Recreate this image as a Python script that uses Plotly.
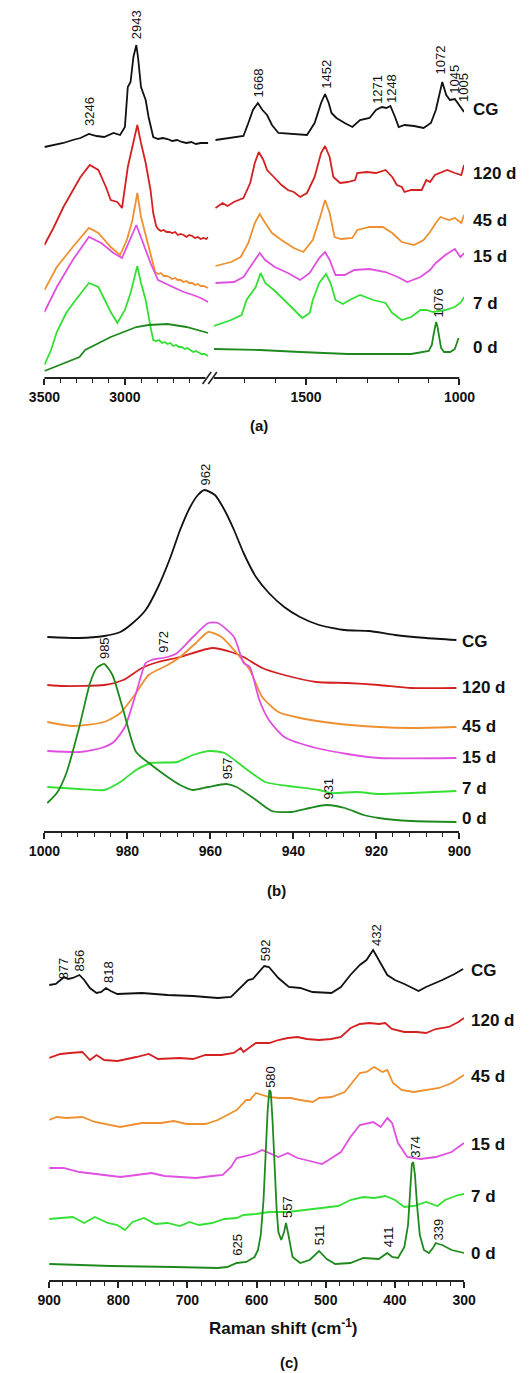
import plotly.graph_objects as go

W, H = 531, 1373
FONT = "Liberation Sans, Arial, sans-serif"

# ---------------- Panel (a): high-wavenumber segment (3500-2500) ----------------
a_hi_cg_x = [3500, 3441, 3382, 3324, 3276, 3224, 3176, 3129, 3071, 3030, 3000, 2982, 2965, 2947, 2929, 2918, 2900, 2871, 2853, 2824, 2794, 2765, 2735, 2706, 2676, 2647, 2618, 2588, 2559, 2529, 2482]
a_hi_cg_y = [231, 233, 235, 238, 240, 244, 242, 241, 245, 243, 251, 291, 296, 321, 333, 320, 291, 278, 261, 241, 239, 240, 239, 237, 238, 236, 235, 236, 234, 235, 235]
a_hi_120_x = [3500, 3441, 3382, 3324, 3276, 3218, 3165, 3118, 3088, 3047, 3018, 2982, 2947, 2923, 2900, 2871, 2841, 2824, 2806, 2794, 2776, 2759, 2741, 2724, 2706, 2688, 2671, 2653, 2635, 2618, 2600, 2582, 2565, 2547, 2529, 2512, 2494, 2482]
a_hi_120_y = [133, 151, 171, 188, 201, 213, 208, 191, 178, 176, 170, 211, 238, 253, 235, 215, 188, 165, 152, 149, 147, 148, 146, 146, 145, 146, 143, 144, 143, 141, 143, 142, 140, 141, 139, 140, 139, 141]
a_hi_45_x = [3500, 3423, 3324, 3224, 3165, 3088, 3030, 2988, 2953, 2923, 2900, 2865, 2812, 2794, 2776, 2759, 2741, 2724, 2706, 2688, 2671, 2653, 2635, 2618, 2600, 2582, 2565, 2547, 2529, 2512, 2494, 2482]
a_hi_45_y = [88, 111, 131, 150, 145, 131, 123, 138, 158, 185, 161, 138, 106, 104, 105, 102, 102, 101, 99, 100, 98, 98, 96, 97, 95, 95, 93, 94, 92, 92, 91, 90]
a_hi_15_x = [3500, 3423, 3324, 3224, 3147, 3071, 3018, 2971, 2929, 2894, 2841, 2794, 2744, 2694, 2635, 2576, 2529, 2482]
a_hi_15_y = [66, 91, 118, 141, 135, 125, 120, 138, 153, 138, 115, 98, 94, 90, 86, 83, 80, 76]
a_hi_7_x = [3500, 3459, 3423, 3365, 3306, 3224, 3165, 3106, 3088, 3047, 3000, 2965, 2923, 2900, 2871, 2841, 2824, 2806, 2788, 2770, 2753, 2735, 2718, 2700, 2682, 2665, 2647, 2629, 2612, 2594, 2576, 2559, 2541, 2524, 2506, 2482]
a_hi_7_y = [13, 28, 46, 65, 78, 95, 91, 71, 66, 55, 68, 85, 112, 95, 78, 51, 38, 37, 38, 35, 36, 34, 35, 32, 33, 31, 31, 29, 30, 28, 26, 27, 25, 24, 24, 22]
a_hi_0_x = [3500, 3282, 3247, 3088, 2929, 2853, 2735, 2618, 2482]
a_hi_0_y = [7, 21, 28, 41, 51, 53, 54, 51, 45]

# ---------------- Panel (a): fingerprint segment (1800-1000) ----------------
a_lo_cg_x = [1795, 1704, 1688, 1673, 1657, 1642, 1627, 1611, 1590, 1549, 1497, 1472, 1451, 1438, 1426, 1417, 1401, 1374, 1349, 1324, 1293, 1272, 1253, 1238, 1225, 1210, 1198, 1179, 1148, 1117, 1093, 1077, 1056, 1043, 1031, 1015, 1000, 985]
a_lo_cg_y = [238, 242, 255, 268, 275, 268, 263, 253, 245, 244, 243, 255, 275, 284, 275, 265, 260, 255, 251, 258, 260, 268, 271, 270, 272, 261, 251, 253, 252, 250, 255, 268, 296, 283, 278, 279, 272, 266]
a_lo_120_x = [1795, 1772, 1756, 1735, 1704, 1682, 1667, 1654, 1639, 1627, 1605, 1580, 1559, 1540, 1519, 1497, 1472, 1451, 1438, 1423, 1411, 1389, 1364, 1340, 1333, 1302, 1272, 1241, 1219, 1204, 1188, 1179, 1157, 1123, 1108, 1096, 1080, 1062, 1040, 1015, 994, 985]
a_lo_120_y = [170, 175, 172, 176, 180, 195, 215, 226, 218, 208, 201, 193, 188, 186, 181, 185, 201, 225, 232, 221, 201, 195, 196, 198, 205, 206, 205, 208, 201, 193, 191, 186, 188, 188, 198, 196, 203, 205, 208, 205, 203, 213]
a_lo_45_x = [1795, 1744, 1713, 1688, 1667, 1651, 1633, 1611, 1580, 1540, 1509, 1478, 1454, 1438, 1423, 1407, 1386, 1349, 1333, 1293, 1250, 1219, 1188, 1148, 1117, 1096, 1077, 1062, 1034, 1015, 994, 985]
a_lo_45_y = [112, 116, 121, 135, 155, 164, 155, 145, 138, 130, 126, 138, 161, 178, 165, 141, 139, 140, 148, 151, 151, 145, 136, 133, 138, 146, 155, 161, 158, 160, 155, 163]
a_lo_15_x = [1795, 1735, 1704, 1673, 1651, 1633, 1602, 1559, 1519, 1488, 1457, 1438, 1423, 1404, 1374, 1343, 1293, 1241, 1201, 1170, 1127, 1096, 1077, 1046, 1015, 997, 985]
a_lo_15_y = [95, 96, 101, 115, 125, 118, 111, 105, 98, 105, 120, 126, 118, 103, 103, 108, 109, 106, 101, 96, 101, 108, 115, 123, 129, 121, 125]
a_lo_7_x = [1800, 1744, 1710, 1694, 1664, 1648, 1633, 1605, 1571, 1540, 1512, 1488, 1478, 1457, 1435, 1420, 1404, 1380, 1358, 1324, 1281, 1241, 1219, 1188, 1157, 1127, 1108, 1086, 1046, 1015, 994, 985]
a_lo_7_y = [52, 58, 63, 78, 91, 105, 95, 88, 78, 68, 60, 65, 78, 95, 104, 95, 78, 74, 78, 83, 78, 75, 65, 58, 61, 68, 68, 66, 68, 71, 76, 81]
a_lo_0_x = [1800, 1650, 1519, 1364, 1250, 1157, 1100, 1090, 1084, 1079, 1076, 1072, 1066, 1060, 1050, 1030, 1015, 1003]
a_lo_0_y = [29, 28, 26, 24, 24, 24, 27, 33, 44, 54, 56, 52, 40, 30, 26, 26, 29, 40]

# ---------------- Panel (b): 1000-900 ----------------
b_cg_x = [999.3, 991.6, 985.6, 981.7, 978.7, 975.6, 972.6, 969.6, 967.3, 965, 963, 961.4, 958.9, 956.6, 954.3, 952, 949, 945.9, 942.2, 938.4, 933.8, 927.6, 921.7, 915.5, 908, 900.7]
b_cg_y = [194, 193, 195, 199, 208, 221, 244, 274, 301, 323, 336, 341, 336, 321, 301, 278, 254, 238, 224, 214, 206, 201, 200, 196, 193, 191]
b_120_x = [999.3, 995.4, 985.6, 981, 976.5, 972.6, 967.3, 959.6, 955, 952, 947.5, 942.2, 934.5, 927, 919.4, 911.6, 900.7]
b_120_y = [146, 145, 146, 151, 163, 169, 174, 183, 179, 174, 163, 156, 149, 148, 146, 143, 143]
b_45_x = [999.3, 993, 985.6, 981.7, 977.9, 974.9, 970.3, 967.3, 963.5, 960.5, 957.3, 953.7, 950.5, 947.5, 943.6, 938.4, 930.8, 919.4, 911.6, 900.7]
b_45_y = [109, 105, 109, 118, 138, 156, 166, 174, 188, 199, 194, 178, 161, 134, 119, 113, 108, 104, 103, 104]
b_15_x = [999.3, 991.6, 986.3, 983.3, 980.6, 977.9, 975.6, 974.2, 970.3, 968, 964.2, 960.5, 958.2, 954.3, 952, 950.5, 948.2, 945.9, 942.2, 934.5, 927, 919.4, 900.7]
b_15_y = [80, 79, 83, 89, 104, 138, 168, 171, 174, 178, 194, 208, 208, 194, 168, 164, 131, 111, 94, 83, 77, 73, 73]
b_7_x = [999.3, 991.6, 985.6, 981.7, 977.9, 974.2, 968, 964.2, 960, 956.6, 952, 946.8, 941.3, 933.8, 930.8, 924.7, 919.4, 911.6, 900.7]
b_7_y = [44, 42, 41, 49, 61, 68, 69, 76, 80, 78, 64, 49, 45, 41, 38, 39, 37, 38, 40]
b_0_x = [999.3, 997, 994.7, 991.6, 989, 987.4, 985.6, 983.6, 981, 977.9, 974.2, 970.3, 967.3, 964.2, 960.5, 956.2, 953.7, 949, 945.2, 940.6, 936.1, 932, 927.6, 923.1, 919.4, 911.6, 900.7]
b_0_y = [28, 38, 58, 104, 148, 163, 167, 156, 121, 79, 66, 54, 46, 41, 44, 47, 44, 31, 20, 19, 23, 26, 23, 16, 13, 10, 9]

# ---------------- Panel (c): 900-300 ----------------
c_cg_x = [900, 890.4, 883.6, 878.1, 872.6, 865.8, 856.2, 849.3, 841.1, 831.5, 824.7, 817.8, 811, 801.4, 765.8, 728.8, 692, 656.2, 637, 623.3, 612.3, 605.5, 595.9, 589, 582.2, 568.5, 553.4, 537, 519.2, 491.8, 478.1, 464.4, 450.7, 441.1, 431.5, 423.3, 411, 400, 386.3, 365.8, 355, 331.5, 313.7, 301.4]
c_cg_y = [295, 296, 300, 303, 301, 302, 305, 300, 292, 287, 288, 292, 289, 286, 287, 285, 284, 282, 283, 293, 300, 301, 308, 314, 313, 302, 293, 292, 288, 287, 293, 305, 315, 320, 330, 320, 305, 300, 296, 289, 293, 300, 306, 311]
c_120_x = [900, 883.6, 869.9, 852, 841, 831.5, 820.5, 801, 774, 756, 742.5, 711, 692, 674, 651, 633, 623, 619, 601, 582, 568.5, 555, 541, 527.4, 510, 492, 478, 464, 450.7, 437, 423, 414, 404.5, 386.3, 368.5, 355, 341, 322, 308.2, 300]
c_120_y = [222, 226, 227, 228, 220, 225, 220, 219, 223, 226, 221, 222, 221, 225, 225, 227, 232, 228, 237, 237, 240, 242, 243, 241, 240, 241, 243, 252, 256, 257, 256, 257, 251, 248, 248, 247, 251, 253, 258, 262]
c_45_x = [900, 889, 875, 852, 834, 811, 797.3, 765.8, 738.4, 719.6, 701.4, 674, 656.2, 642.5, 628.8, 615, 609.6, 601, 582, 568.5, 550.7, 537, 519, 509.6, 491.8, 472.6, 459, 450.7, 441, 430, 418, 411, 402.7, 390.4, 372.6, 355, 336, 318, 300]
c_45_y = [160, 163, 162, 163, 158, 155, 153, 157, 157, 159, 156, 156, 160, 165, 170, 180, 180, 187, 183, 182, 182, 180, 178, 182, 183, 188, 200, 207, 208, 213, 208, 210, 197, 190, 188, 190, 192, 197, 205]
c_15_x = [900, 879.5, 856, 829, 797, 774, 752, 733, 711, 687.7, 664.4, 649, 637, 628.8, 615, 601, 592, 582, 568.5, 555, 541, 523, 505.5, 496, 478, 464.4, 450.7, 431.5, 420.5, 411, 404, 395.6, 382, 363, 341, 318, 300]
c_15_y = [112, 112, 108, 106, 103, 105, 107, 104, 103, 102, 104, 105, 113, 122, 124, 127, 130, 127, 123, 127, 122, 119, 116, 120, 128, 143, 155, 158, 153, 162, 157, 137, 123, 121, 123, 128, 137]
c_7_x = [900, 879.5, 865.8, 849.3, 834, 815, 801.4, 790.4, 779.5, 763, 746.6, 728.8, 711, 697, 683.6, 664.4, 646.6, 628.8, 619, 601, 582.2, 555, 527.4, 500, 482, 464.4, 445.5, 430, 413.7, 400, 386.3, 372.6, 355, 338.4, 327.4, 308.2, 300]
c_7_y = [61, 62, 63, 57, 63, 57, 55, 50, 58, 62, 56, 57, 54, 58, 55, 57, 61, 62, 65, 66, 68, 68, 70, 72, 74, 80, 83, 82, 84, 80, 73, 74, 78, 74, 80, 85, 86]
c_0_x = [900, 811, 719.6, 656.2, 642.5, 628.8, 615, 603, 598, 594, 590, 587, 584, 581.5, 579.5, 577, 574, 571, 568.5, 564.4, 560.3, 557.5, 554.8, 548, 537, 523.3, 509.6, 498.6, 486.3, 464.4, 445.5, 423.3, 411, 404, 395.6, 386.3, 381, 378, 375.5, 373.5, 371, 368, 364, 358, 351, 345, 341, 337, 331.5, 318, 300]
c_0_y = [16, 14, 13, 12, 13, 17, 18, 23, 30, 45, 80, 125, 170, 190, 188, 160, 110, 70, 48, 40, 48, 57, 48, 23, 17, 20, 29, 21, 16, 17, 22, 21, 27, 23, 22, 33, 55, 95, 116, 118, 105, 75, 45, 30, 27, 32, 37, 36, 35, 30, 27]

series_names = ["CG", "120 d", "45 d", "15 d", "7 d", "0 d"]
a_peaks = ["3246", "2943", "1668", "1452", "1271", "1248", "1072", "1045", "1005", "1076"]
b_peaks = ["962", "985", "972", "957", "931"]
c_peaks = ["877", "856", "818", "592", "432", "580", "625", "557", "511", "411", "374", "339"]

# ---------------- styling / layout (positions in page pixels) ----------------
COLORS = ["#111111", "#d42020", "#ee9030", "#e050e0", "#33e033", "#1e8a1e"]


def px(x):
    return x / W


def py(y):
    return 1 - y / H


fig = go.Figure()

panels = [
    ("x", "y", [(a_hi_cg_x, a_hi_cg_y), (a_hi_120_x, a_hi_120_y), (a_hi_45_x, a_hi_45_y),
                (a_hi_15_x, a_hi_15_y), (a_hi_7_x, a_hi_7_y), (a_hi_0_x, a_hi_0_y)], "linear"),
    ("x2", "y", [(a_lo_cg_x, a_lo_cg_y), (a_lo_120_x, a_lo_120_y), (a_lo_45_x, a_lo_45_y),
                 (a_lo_15_x, a_lo_15_y), (a_lo_7_x, a_lo_7_y), (a_lo_0_x, a_lo_0_y)], "linear"),
    ("x3", "y2", [(b_cg_x, b_cg_y), (b_120_x, b_120_y), (b_45_x, b_45_y),
                  (b_15_x, b_15_y), (b_7_x, b_7_y), (b_0_x, b_0_y)], "spline"),
    ("x4", "y3", [(c_cg_x, c_cg_y), (c_120_x, c_120_y), (c_45_x, c_45_y),
                  (c_15_x, c_15_y), (c_7_x, c_7_y), (c_0_x, c_0_y)], "linear"),
]
for xa, ya, series, shape in panels:
    for (xs, ys), col, name in zip(series, COLORS, series_names):
        line = dict(color=col, width=1.8, shape=shape)
        if shape == "spline":
            line["smoothing"] = 0.6
        fig.add_trace(go.Scatter(x=xs, y=ys, mode="lines", line=line, name=name,
                                 xaxis=xa, yaxis=ya, showlegend=False, hoverinfo="skip"))

tickfont = dict(family=FONT, size=14, color="#111", weight="bold")
common_x = dict(showgrid=False, zeroline=False, ticks="outside", ticklen=6, tickwidth=1.5,
                tickcolor="#222", tickfont=tickfont, fixedrange=True)
common_y = dict(visible=False, showgrid=False, zeroline=False, fixedrange=True)

fig.update_layout(
    width=W, height=H, autosize=False,
    margin=dict(l=0, r=0, t=0, b=0),
    paper_bgcolor="white", plot_bgcolor="white",
    font=dict(family=FONT, color="#111"),
    xaxis=dict(domain=[px(30), px(203)], range=[3500, 2482], anchor="y", showline=False,
               tickmode="array", tickvals=[3500, 3000],
               minor=dict(tickvals=[3400, 3300, 3200, 3100, 2900, 2800, 2700, 2600],
                          ticks="outside", ticklen=3.5, tickwidth=1.2, tickcolor="#222"),
               **common_x),
    xaxis2=dict(domain=[px(209), px(473)], range=[1800, 985], anchor="y", showline=False,
                tickmode="array", tickvals=[1500, 1000],
                minor=dict(tickvals=[1700, 1600, 1400, 1300, 1200, 1100],
                           ticks="outside", ticklen=3.5, tickwidth=1.2, tickcolor="#222"),
                **common_x),
    yaxis=dict(domain=[py(378), py(5)], range=[0, 373], **common_y),
    xaxis3=dict(domain=[px(30), px(468)], range=[1000, 900], anchor="y2", showline=True,
                linecolor="#222", linewidth=2, tickmode="linear", tick0=1000, dtick=20,
                minor=dict(tickmode="linear", tick0=1000, dtick=4, ticks="outside",
                           ticklen=3.5, tickwidth=1.2, tickcolor="#222"),
                **common_x),
    yaxis2=dict(domain=[py(831), py(450)], range=[0, 381], **common_y),
    xaxis4=dict(domain=[px(35), px(473)], range=[900, 300], anchor="y3", showline=True,
                linecolor="#222", linewidth=2, tickmode="linear", tick0=900, dtick=100,
                minor=dict(tickmode="linear", tick0=900, dtick=20, ticks="outside",
                           ticklen=3.5, tickwidth=1.2, tickcolor="#222"),
                **common_x),
    yaxis3=dict(domain=[py(1280), py(880)], range=[0, 400], **common_y),
)

# broken axis line for panel (a)
shapes = [
    dict(type="line", xref="paper", yref="paper", x0=px(30), x1=px(200), y0=py(378), y1=py(378),
         line=dict(color="#222", width=2)),
    dict(type="line", xref="paper", yref="paper", x0=px(209), x1=px(468), y0=py(378), y1=py(378),
         line=dict(color="#222", width=2)),
    dict(type="line", xref="paper", yref="paper", x0=px(197), x1=px(206), y0=py(384), y1=py(372),
         line=dict(color="#222", width=1.6)),
    dict(type="line", xref="paper", yref="paper", x0=px(203), x1=px(212), y0=py(384), y1=py(372),
         line=dict(color="#222", width=1.6)),
]
fig.update_layout(shapes=shapes)

ann = []
# series labels
label_sets = [(480, [110, 173, 220, 257, 303, 348]),
              (469, [641, 687, 726, 757, 789, 818]),
              (478, [970, 1020, 1076, 1144, 1196, 1253])]
for lx, lys in label_sets:
    for name, ly in zip(series_names, lys):
        ann.append(dict(text=name, x=px(lx), y=py(ly), xref="paper", yref="paper",
                        xanchor="left", yanchor="middle", showarrow=False,
                        font=dict(family=FONT, size=17, color="#111", weight="bold")))

# peak labels (rotated)
a_pos = [(77, 111), (127, 25), (256, 83), (328, 74), (382, 89), (397, 89), (448, 60), (462, 79), (473, 88), (445, 303)]
b_pos = [(199, 475), (93, 648), (155, 642), (223, 768), (330, 789)]
c_pos = [(50, 968), (67, 960), (97, 972), (263, 950), (380, 935), (268, 1077), (233, 1245),
         (286, 1207), (320, 1235), (393, 1237), (421, 1147), (445, 1230)]
for texts, poss in [(a_peaks, a_pos), (b_peaks, b_pos), (c_peaks, c_pos)]:
    for t, (x0, y0) in zip(texts, poss):
        ann.append(dict(text=t, x=px(x0), y=py(y0), xref="paper", yref="paper",
                        xanchor="center", yanchor="middle", textangle=-90, showarrow=False,
                        font=dict(family=FONT, size=13, color="#111")))

# panel captions and axis title
for t, (x0, y0) in [("(a)", (257, 425)), ("(b)", (275, 890)), ("(c)", (288, 1362))]:
    ann.append(dict(text=t, x=px(x0), y=py(y0), xref="paper", yref="paper",
                    xanchor="center", yanchor="middle", showarrow=False,
                    font=dict(family=FONT, size=15, color="#111", weight="bold")))
ann.append(dict(text="Raman shift (cm<sup>-1</sup>)", x=px(282), y=py(1327), xref="paper", yref="paper",
                xanchor="center", yanchor="middle", showarrow=False,
                font=dict(family=FONT, size=17, color="#111", weight="bold")))
fig.update_layout(annotations=ann)

fig.write_html("out.html")
